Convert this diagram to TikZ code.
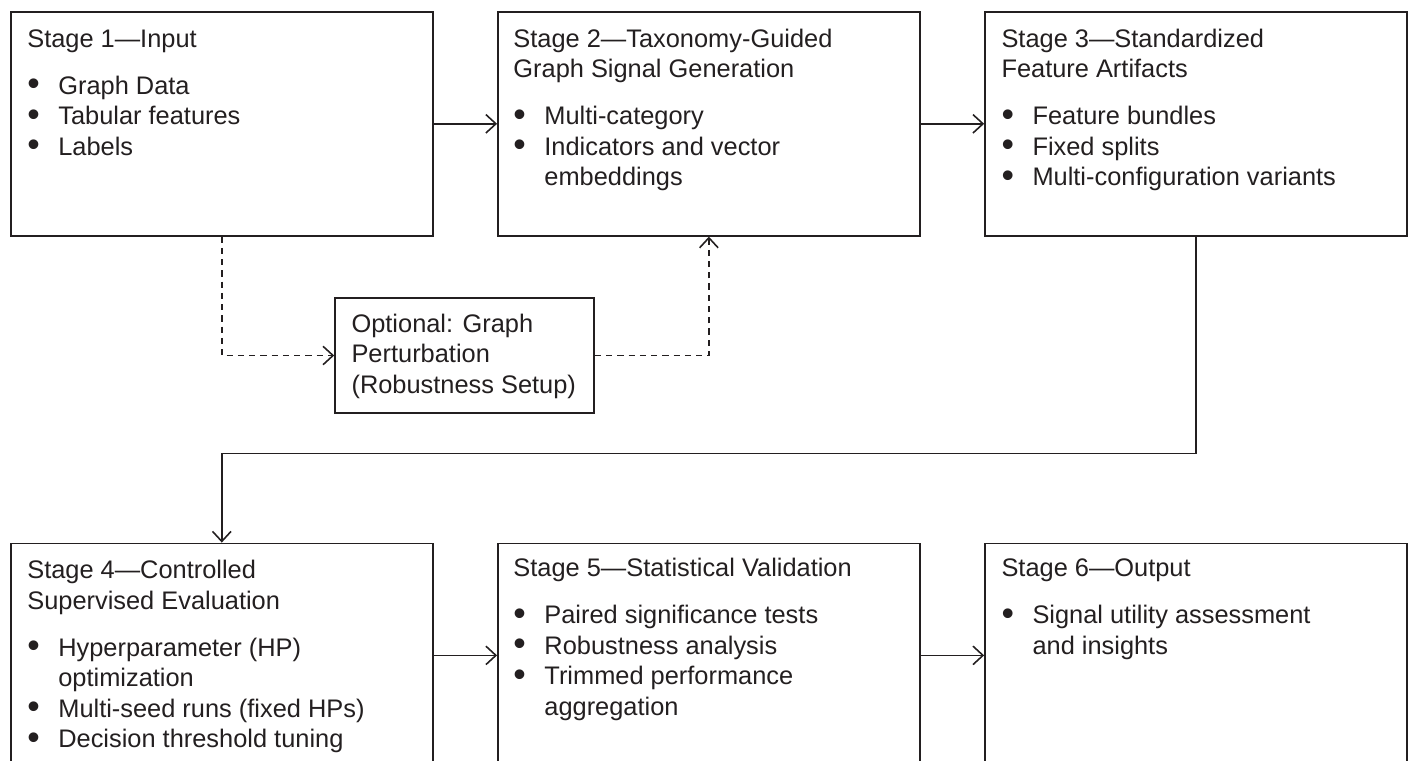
\documentclass[tikz,border=0pt]{standalone}
\usepackage{fontspec}
\setmainfont{Liberation Sans}
\usetikzlibrary{arrows.meta,
                positioning
            }

\definecolor{ink}{RGB}{35,31,32}

\newcommand{\stagehead}[1]{#1\par\vspace{9.4pt}}
\newcommand{\bdot}{\smash{\raisebox{-0.07em}{\scalebox{1.4}{\textbullet}}}}
\newcommand{\bitem}[1]{\par\hangindent=0.62cm\hangafter=1\noindent\makebox[0.62cm][l]{\bdot}#1}
\newcommand{\stagebody}[1]{\parbox[t]{8cm}{\raggedright #1}}

\tikzset{
    stagebox/.style={draw=ink, line width=0.9pt, minimum width=8.44cm, minimum height=4.48cm, inner sep=0pt},
    optbox/.style={draw=ink, line width=0.9pt, minimum width=5.18cm, minimum height=2.3cm, inner sep=0pt},
    stagetxt/.style={anchor=base west, inner sep=0pt, text=ink, font=\fontsize{14.45pt}{17.36pt}\selectfont},
    flow/.style={draw=ink, line width=0.9pt, -{Straight Barb[length=5.7pt,width=10.5pt]}},
    optflow/.style={flow, dash pattern=on 3.6pt off 2.8pt}
}

\begin{document}
\begin{tikzpicture}
                \useasboundingbox (0,0) rectangle (28.16,-15.2);

                % Top row
                \node (stage1) [stagebox, anchor=north west] at (0.2,-0.22) {};
                \node (stage2) [stagebox, right=1.27cm of stage1] {};
                \node (stage3) [stagebox, right=1.27cm of stage2] {};

                % Bottom row
                \node (stage4) [stagebox, below=6.12cm of stage1] {};
                \node (stage5) [stagebox, right=1.27cm of stage4] {};
                \node (stage6) [stagebox, right=1.27cm of stage5] {};

                % Optional perturbation step
                \node (optional) [optbox] at (9.29,-7.11) {};

                % Texts
                \node (stage1txt) [stagetxt] at ([shift={(0.34cm,-0.72cm)}]stage1.north west) {\stagebody{%
                    \stagehead{Stage 1—Input}
                    \bitem{Graph Data}
                    \bitem{Tabular features}
                    \bitem{Labels}}};
                \node (stage2txt) [stagetxt] at ([shift={(0.32cm,-0.72cm)}]stage2.north west) {\stagebody{%
                    \stagehead{Stage 2—Taxonomy-Guided\\Graph Signal Generation}
                    \bitem{Multi-category}
                    \bitem{Indicators and vector\newline embeddings}}};
                \node (stage3txt) [stagetxt] at ([shift={(0.34cm,-0.72cm)}]stage3.north west) {\stagebody{%
                    \stagehead{Stage 3—Standardized\\Feature Artifacts}
                    \bitem{Feature bundles}
                    \bitem{Fixed splits}
                    \bitem{Multi-configuration variants}}};
                \node (stage4txt) [stagetxt] at ([shift={(0.34cm,-0.72cm)}]stage4.north west) {\stagebody{%
                    \stagehead{Stage 4—Controlled\\Supervised Evaluation}
                    \bitem{Hyperparameter (HP)\newline optimization}
                    \bitem{Multi-seed runs (fixed HPs)}
                    \bitem{Decision threshold tuning}}};
                \node (stage5txt) [stagetxt] at ([shift={(0.32cm,-0.68cm)}]stage5.north west) {\stagebody{%
                    \stagehead{Stage 5—Statistical Validation}
                    \bitem{Paired significance tests}
                    \bitem{Robustness analysis}
                    \bitem{Trimmed performance\newline aggregation}}};
                \node (stage6txt) [stagetxt] at ([shift={(0.34cm,-0.68cm)}]stage6.north west) {\stagebody{%
                    \stagehead{Stage 6—Output}
                    \bitem{Signal utility assessment\newline and insights}}};
                \node (optionaltxt) [stagetxt] at ([shift={(0.34cm,-0.7cm)}]optional.north west) {\stagebody{%
                    Optional: Graph\\Perturbation\\(Robustness Setup)}};

                % Connectors
                \coordinate (turn) at ([yshift=-4.34cm]stage3.south);
                \draw [flow] (stage1.east) -- (stage2.west);
                \draw [flow] (stage2.east) -- (stage3.west);
                \draw [flow] (stage3.south) -- (turn) -| (stage4.north);
                \draw [flow] (stage4.east) -- (stage5.west);
                \draw [flow] (stage5.east) -- (stage6.west);
                \draw [optflow] (stage1.south) |- (optional.west);
                \draw [optflow] (optional.east) -| (stage2.south);
            \end{tikzpicture}
\end{document}
